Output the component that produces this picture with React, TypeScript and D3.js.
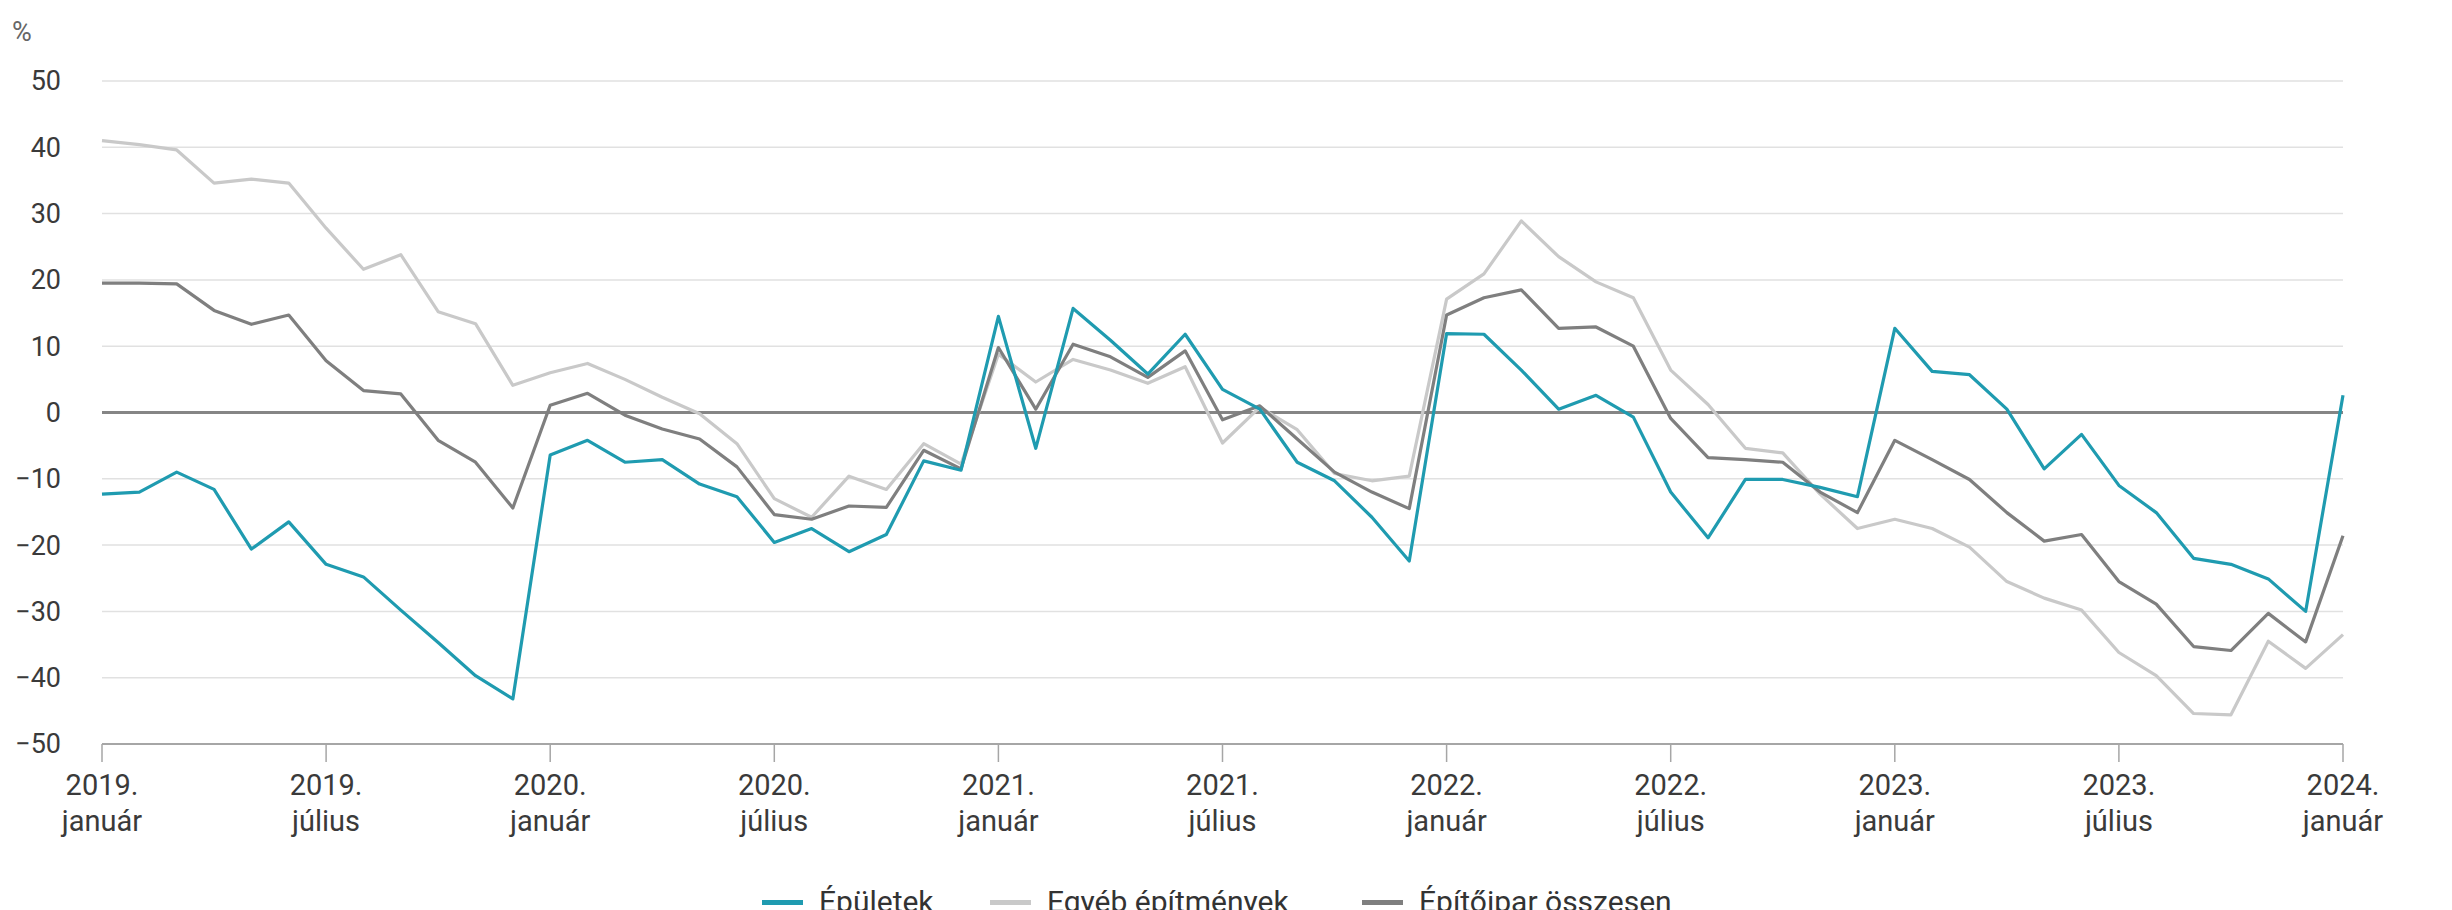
import React from "react";
import * as d3 from "d3";

const W = 2452;
const H = 910;

const seriesNames = ["Épületek", "Egyéb építmények", "Építőipar összesen"];
const seriesColors = ["#1f9bb0", "#c9c9c9", "#7f7f7f"];

// Monthly values, 2019. január – 2024. január (61 months)
const epuletek = [
  -12.3, -12.0, -9.0, -11.6, -20.6, -16.5, -22.9, -24.8, -29.8, -34.7, -39.7, -43.2,
  -6.4, -4.2, -7.5, -7.1, -10.8, -12.7, -19.6, -17.5, -21.0, -18.4, -7.3, -8.7,
  14.5, -5.4, 15.7, 10.9, 5.8, 11.8, 3.5, 0.5, -7.5, -10.3, -15.8, -22.4,
  11.9, 11.8, 6.4, 0.5, 2.6, -0.7, -12.0, -18.9, -10.1, -10.1, -11.3, -12.7,
  12.7, 6.2, 5.7, 0.5, -8.5, -3.3, -11.0, -15.1, -22.0, -22.9, -25.1, -30.0,
  2.6,
];
const egyebEpitmenyek = [
  41.0, 40.4, 39.6, 34.6, 35.2, 34.6, 27.8, 21.6, 23.8, 15.2, 13.4, 4.1,
  6.0, 7.4, 5.0, 2.3, -0.2, -4.7, -13.0, -15.8, -9.6, -11.6, -4.7, -7.8,
  8.8, 4.6, 8.0, 6.4, 4.4, 6.9, -4.6, 0.8, -2.6, -9.2, -10.3, -9.6,
  17.1, 20.9, 28.9, 23.5, 19.7, 17.3, 6.4, 1.2, -5.4, -6.1, -12.3, -17.5,
  -16.1, -17.5, -20.3, -25.5, -28.0, -29.8, -36.2, -39.7, -45.4, -45.6, -34.5, -38.6,
  -33.5,
];
const epitoiparOsszesen = [
  19.5, 19.5, 19.4, 15.4, 13.3, 14.7, 7.8, 3.3, 2.8, -4.2, -7.5, -14.4,
  1.1, 2.9, -0.4, -2.5, -4.0, -8.2, -15.4, -16.1, -14.1, -14.3, -5.7, -8.5,
  9.8, 0.5, 10.3, 8.4, 5.3, 9.3, -1.1, 1.0, -4.0, -9.0, -12.0, -14.5,
  14.7, 17.3, 18.5, 12.7, 12.9, 10.0, -0.9, -6.8, -7.1, -7.5, -12.0, -15.1,
  -4.2, -7.1, -10.1, -15.1, -19.4, -18.4, -25.5, -28.9, -35.3, -35.9, -30.3, -34.6,
  -18.6,
];

const tickIndex = [0, 6, 12, 18, 24, 30, 36, 42, 48, 54, 60];
const tickYears = ["2019.", "2019.", "2020.", "2020.", "2021.", "2021.", "2022.", "2022.", "2023.", "2023.", "2024."];
const tickMonths = ["január", "július", "január", "július", "január", "július", "január", "július", "január", "július", "január"];
const yTicks = [50, 40, 30, 20, 10, 0, -10, -20, -30, -40, -50];

const legendX = [762, 990, 1362];

const FONT = "Roboto, 'Noto Sans', Arial, sans-serif";

export default function App() {
  const x = d3.scaleLinear().domain([0, 60]).range([102, 2343]);
  const y = d3.scaleLinear().domain([-50, 50]).range([744, 81]);
  const line = d3
    .line<number>()
    .x((_, i) => x(i))
    .y((d) => y(d));

  const all = [egyebEpitmenyek, epitoiparOsszesen, epuletek];
  const allColors = [seriesColors[1], seriesColors[2], seriesColors[0]];
  const fmt = (v: number) => (v < 0 ? "\u2212" + Math.abs(v) : String(v));

  return (
    <svg
      width={W}
      height={H}
      style={{ position: "absolute", left: 0, top: 0, background: "#fff" }}
      fontFamily={FONT}
    >
      <rect x={0} y={0} width={W} height={H} fill="#fff" />
      <text x={12} y={41} fontSize={27} fill="#666">%</text>
      {yTicks.map((t) => (
        <g key={t}>
          {t !== -50 && t !== 0 && (
            <line x1={x(0)} x2={x(60)} y1={y(t)} y2={y(t)} stroke="#e1e1e1" strokeWidth={1.5} />
          )}
          <text x={61} y={y(t)} dy="0.35em" textAnchor="end" fontSize={27} fill="#3a3a3a">
            {fmt(t)}
          </text>
        </g>
      ))}
      {/* bottom axis */}
      <line x1={x(0)} x2={x(60)} y1={y(-50)} y2={y(-50)} stroke="#a6a6a6" strokeWidth={2} />
      {tickIndex.map((ti, k) => (
        <g key={ti}>
          <line x1={x(ti)} x2={x(ti)} y1={y(-50)} y2={y(-50) + 18} stroke="#a6a6a6" strokeWidth={1.5} />
          <text x={x(ti)} y={795} textAnchor="middle" fontSize={29} fill="#3a3a3a">
            {tickYears[k]}
          </text>
          <text x={x(ti)} y={831} textAnchor="middle" fontSize={29} fill="#3a3a3a">
            {tickMonths[k]}
          </text>
        </g>
      ))}
      {/* zero line */}
      <line x1={x(0)} x2={x(60)} y1={y(0)} y2={y(0)} stroke="#858585" strokeWidth={3} />
      {all.map((s, k) => (
        <path
          key={k}
          d={line(s) || ""}
          fill="none"
          stroke={allColors[k]}
          strokeWidth={3.2}
          strokeLinejoin="round"
        />
      ))}
      {seriesNames.map((n, k) => (
        <g key={n}>
          <line
            x1={legendX[k]}
            x2={legendX[k] + 41}
            y1={902.5}
            y2={902.5}
            stroke={seriesColors[k]}
            strokeWidth={5}
          />
          <text x={legendX[k] + 57} y={912} fontSize={30} fill="#333">
            {n}
          </text>
        </g>
      ))}
    </svg>
  );
}
